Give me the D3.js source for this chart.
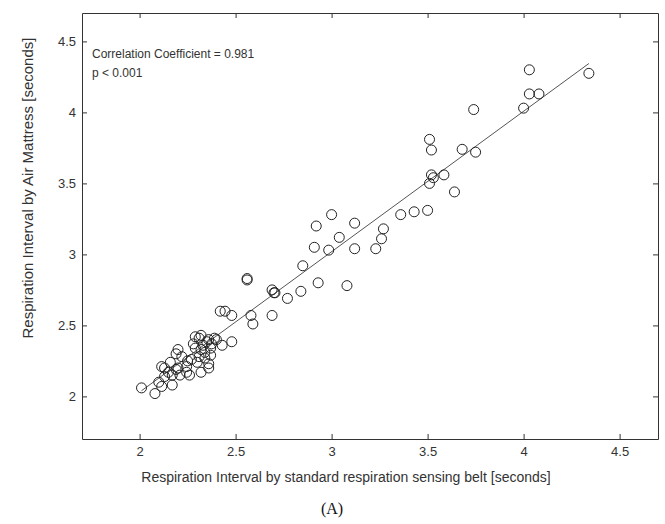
<!DOCTYPE html>
<html>
<head>
<meta charset="utf-8">
<script src="https://cdn.jsdelivr.net/npm/d3@7"></script>
<style>
    body { margin: 0; background: #fff; }
    svg { display: block; }
</style>
</head>
<body>
<svg id="chart" width="665" height="524"></svg>
<script>
// Respiration interval: reference belt (x) vs air mattress (y), seconds
const beltX = [
    4.03, 4.34, 4.03, 4.08, 4.00, 3.74, 3.51, 3.52, 3.68, 3.75, 3.52, 3.51, 3.53, 3.585, 3.64,
    3.00, 2.92, 3.12, 3.36, 3.43, 3.50, 3.04, 3.27, 3.26, 3.23, 2.91, 2.985, 3.12, 2.85, 2.93, 3.08, 2.84,
    2.56, 2.56, 2.69, 2.705, 2.70, 2.77, 2.69, 2.58, 2.59, 2.42, 2.445, 2.48, 2.48, 2.43, 2.39,
    2.32, 2.29, 2.31, 2.35, 2.375, 2.37, 2.32, 2.29, 2.37, 2.34, 2.30, 2.36, 2.245, 2.27, 2.20,
    2.19, 2.22, 2.16, 2.115, 2.13, 2.15, 2.17, 2.20, 2.21, 2.245, 2.26, 2.13, 2.10, 2.115, 2.17,
    2.01, 2.08, 2.32, 2.36, 2.33, 2.36, 2.34, 2.28, 2.40, 2.31, 2.25, 2.19
];
const mattressY = [
    4.30, 4.275, 4.13, 4.13, 4.03, 4.02, 3.81, 3.735, 3.74, 3.72, 3.56, 3.50, 3.54, 3.56, 3.44,
    3.28, 3.20, 3.22, 3.28, 3.30, 3.31, 3.12, 3.18, 3.11, 3.04, 3.05, 3.03, 3.04, 2.92, 2.80, 2.78, 2.74,
    2.83, 2.82, 2.75, 2.73, 2.73, 2.69, 2.57, 2.57, 2.51, 2.60, 2.60, 2.57, 2.385, 2.36, 2.41,
    2.43, 2.42, 2.41, 2.385, 2.37, 2.34, 2.33, 2.34, 2.29, 2.27, 2.24, 2.23, 2.21, 2.26, 2.33,
    2.30, 2.28, 2.24, 2.21, 2.20, 2.17, 2.15, 2.20, 2.15, 2.17, 2.15, 2.14, 2.10, 2.07, 2.08,
    2.06, 2.02, 2.17, 2.20, 2.36, 2.40, 2.31, 2.37, 2.40, 2.28, 2.25, 2.19
];
const xTicks = [2, 2.5, 3, 3.5, 4, 4.5];
const yTicks = [2, 2.5, 3, 3.5, 4, 4.5];
// fitted line y = a + b * x
const fitA = 0.052,
    fitB = 0.989;
const statLines = ["Correlation Coefficient = 0.981", "p < 0.001"];

const box = {left: 82, right: 658, top: 13, bottom: 439};
const ink = "#333";

let svg = d3.select("#chart")
    .attr("font-family", "'Liberation Sans', Arial, sans-serif");

let x = d3.scaleLinear().domain([1.7, 4.7]).range([box.left, box.right]);
let y = d3.scaleLinear().domain([1.7, 4.7]).range([box.bottom, box.top]);

// axes, ticks pointing inward on all four sides
function styleAxis(g) {
    g.select(".domain").attr("stroke", ink);
    g.selectAll(".tick line").attr("stroke", ink);
    g.selectAll(".tick text").attr("fill", ink).attr("font-size", 13);
}

svg.append("g")
    .attr("transform", `translate(0,${box.bottom})`)
    .call(d3.axisBottom(x).tickValues(xTicks).tickFormat(d => d).tickSize(-5).tickSizeOuter(0).tickPadding(8))
    .call(styleAxis);
svg.append("g")
    .attr("transform", `translate(0,${box.top})`)
    .call(d3.axisTop(x).tickValues(xTicks).tickFormat("").tickSize(-5).tickSizeOuter(0))
    .call(styleAxis);
svg.append("g")
    .attr("transform", `translate(${box.left},0)`)
    .call(d3.axisLeft(y).tickValues(yTicks).tickFormat(d => d).tickSize(-5).tickSizeOuter(0).tickPadding(6))
    .call(styleAxis);
svg.append("g")
    .attr("transform", `translate(${box.right},0)`)
    .call(d3.axisRight(y).tickValues(yTicks).tickFormat("").tickSize(-5).tickSizeOuter(0))
    .call(styleAxis);

// regression line over the data range
let xMin = d3.min(beltX), xMax = d3.max(beltX);
svg.append("line")
    .attr("x1", x(xMin)).attr("y1", y(fitA + fitB * xMin))
    .attr("x2", x(xMax)).attr("y2", y(fitA + fitB * xMax))
    .attr("stroke", "#555")
    .attr("stroke-width", 1);

// points
svg.append("g")
    .selectAll("circle")
    .data(beltX.map((v, i) => ({bx: v, my: mattressY[i]})))
    .join("circle")
    .attr("cx", d => x(d.bx))
    .attr("cy", d => y(d.my))
    .attr("r", 5)
    .attr("fill", "none")
    .attr("stroke", "#222")
    .attr("stroke-width", 1);

// statistics text
svg.append("g")
    .selectAll("text")
    .data(statLines)
    .join("text")
    .attr("x", 92)
    .attr("y", (d, i) => 58 + i * 19)
    .attr("font-size", 12)
    .attr("fill", ink)
    .text(d => d);

// axis titles
svg.append("text")
    .attr("x", 346)
    .attr("y", 482)
    .attr("text-anchor", "middle")
    .attr("font-size", 14)
    .attr("fill", ink)
    .text("Respiration Interval by standard respiration sensing belt [seconds]");

svg.append("text")
    .attr("transform", "translate(33,188) rotate(-90)")
    .attr("text-anchor", "middle")
    .attr("font-size", 15)
    .attr("fill", ink)
    .text("Respiration Interval by Air Mattress [seconds]");

svg.append("text")
    .attr("x", 332)
    .attr("y", 514)
    .attr("text-anchor", "middle")
    .attr("font-family", "'Liberation Serif', 'Times New Roman', serif")
    .attr("font-size", 16)
    .attr("fill", "#111")
    .text("(A)");
</script>
</body>
</html>
